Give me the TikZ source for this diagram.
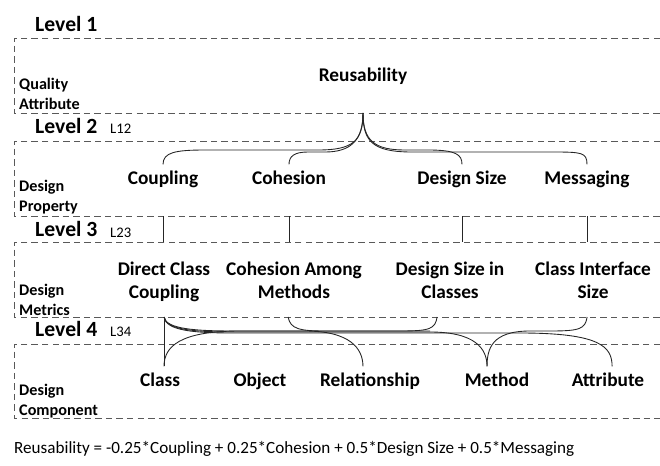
\documentclass[tikz,border=0pt]{standalone}
\usepackage{fontspec}
\setmainfont{Carlito}
\begin{document}
\begin{tikzpicture}[x=0.03cm, y=-0.03cm,
      band/.style={draw=black!65, dash pattern=on 5.5pt off 3.5pt, line width=0.8pt},
      lvl/.style={anchor=base west, inner sep=0pt, font=\fontsize{18.5}{21}\selectfont\bfseries},
      tag/.style={anchor=base west, inner sep=0pt, font=\fontsize{12.5}{14}\selectfont},
      kind/.style={anchor=west, align=left, inner sep=0pt, font=\fontsize{13.8}{17}\selectfont\bfseries},
      item/.style={anchor=base, inner xsep=0pt, inner ysep=4.5pt, text height=12pt, text depth=3pt, font=\fontsize{16.5}{19}\selectfont\bfseries},
      metric/.style={align=center, inner sep=0pt, font=\fontsize{16.5}{19.5}\selectfont\bfseries},
      link/.style={draw=black!85, line width=0.75pt}]
  \useasboundingbox (0,0) rectangle (660,465);
  \foreach \ya/\yb in {38/113, 141/216, 242/317, 344/418}
    \draw[band] (660,\ya) -- (14,\ya) -- (14,\yb) -- (660,\yb);
  \coordinate (hub12) at (363,113);
  \coordinate (b3t) at (0,216);
  \coordinate (b3b) at (0,242);
  \coordinate (b4t) at (0,317);

  \node[lvl] (lv1) at (35,31) {Level 1};
  \node[lvl] (lv2) at (35,133) {Level 2};
  \node[lvl] (lv3) at (35,236) {Level 3};
  \node[lvl] (lv4) at (35,336) {Level 4};
  \node[tag] (l12) at (110,133) {L12};
  \node[tag] (l23) at (110,237) {L23};
  \node[tag] (l34) at (110,336) {L34};

  \node[kind] (qa) at (19,94) {Quality\\Attribute};
  \node[kind] (dp) at (19,197) {Design\\Property};
  \node[kind] (dm) at (19,300) {Design\\Metrics};
  \node[kind] (dc) at (19,401) {Design\\Component};

  \node[item] (reu) at (363,81) {Reusability};
  \node[item] (cpl) at (163,184) {Coupling};
  \node[item] (coh) at (289,184) {Cohesion};
  \node[item] (dsz) at (462,184) {Design Size};
  \node[item] (msg) at (587,184) {Messaging};

  \node[metric] (dcc) at (164,282) {Direct Class\\Coupling};
  \node[metric] (cam) at (294,280) {Cohesion Among\\Methods};
  \node[metric] (dsc) at (450,280) {Design Size in\\Classes};
  \node[metric] (cis) at (593,280) {Class Interface\\Size};

  \node[item] (cls) at (160,386) {Class};
  \node[item] (obj) at (260,386) {Object};
  \node[item] (rel) at (370,386) {Relationship};
  \node[item] (mth) at (497,386) {Method};
  \node[item] (att) at (608,386) {Attribute};

  \node[anchor=base west, inner sep=0pt, font=\fontsize{14.6}{17}\selectfont] (eq) at (14,453)
    {Reusability = -0.25*Coupling + 0.25*Cohesion + 0.5*Design Size + 0.5*Messaging};

  \draw[link] (hub12) .. controls +(0,28) and +(35,0) .. (318,150) -- (205,150)
    .. controls +(-30,0) and +(0,-12) .. (cpl.north);
  \draw[link] (hub12) .. controls +(0,28) and +(25,0) .. (325,152) -- (308,152)
    .. controls +(-14,0) and +(0,-8) .. (coh.north);
  \draw[link] (hub12) .. controls +(0,28) and +(-30,0) .. (405,150) -- (428,150)
    .. controls +(28,0) and +(0,-10) .. (dsz.north);
  \draw[link] (hub12) .. controls +(0,28) and +(-40,0) .. (412,152) -- (552,152)
    .. controls +(30,0) and +(0,-12) .. (msg.north);

  \draw[link] (cpl |- b3t) -- (cpl |- b3b);
  \draw[link] (coh |- b3t) -- (coh |- b3b);
  \draw[link] (dsz |- b3t) -- (dsz |- b3b);
  \draw[link] (msg |- b3t) -- (msg |- b3b);

  \draw[link] (dcc |- b4t) -- (dcc |- cls.north);
  \draw[link] (dcc |- b4t) .. controls +(2,12) and +(-40,0) .. (235,331) -- (305,331)
    .. controls +(45,0) and +(0,-18) .. ([xshift=-6pt]rel.north);
  \draw[link] (dcc |- b4t) .. controls +(2,13) and +(-40,0) .. (235,332) -- (430,332)
    .. controls +(45,0) and +(0,-18) .. ([xshift=-8.5pt]mth.north);
  \draw[link] (dcc |- b4t) .. controls +(2,14) and +(-40,0) .. (235,333) -- (520,333)
    .. controls +(80,0) and +(0,-20) .. ([xshift=3.5pt]att.north);
  \draw[link] ([xshift=-5pt]cam |- b4t) .. controls +(2,12) and +(-25,0) .. (325,331) -- (430,331);
  \draw[link] ([xshift=-11pt]dsc |- b4t) .. controls +(-2,12) and +(30,0) .. (400,331) -- (240,331)
    .. controls +(-60,0) and +(0,-20) .. (dcc |- cls.north);
  \draw[link] ([xshift=-5pt]cis |- b4t) .. controls +(-2,12) and +(30,0) .. (550,331) -- (530,331)
    .. controls +(-38,0) and +(0,-18) .. ([xshift=-8.5pt]mth.north);
\end{tikzpicture}
\end{document}
